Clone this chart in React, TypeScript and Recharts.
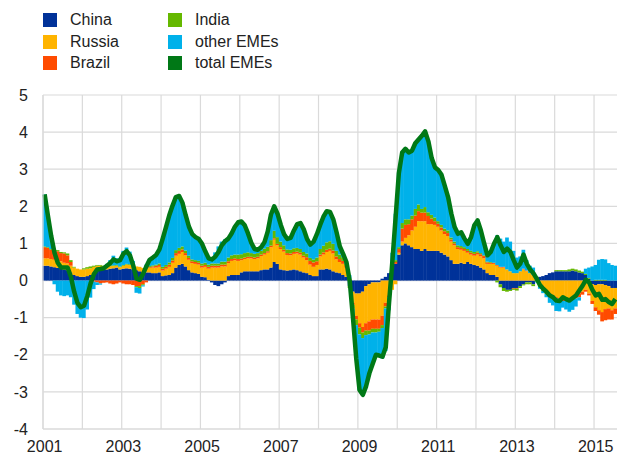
import { ComposedChart, Bar, Line, XAxis, YAxis, CartesianGrid } from "recharts";

// monthly contributions, Jan 2001 .. Jul 2015
const startYear = 2001;

const china = [
  0.40, 0.40, 0.38, 0.36, 0.34, 0.32, 0.30, 0.28, 0.22, 0.15, 0.12, 0.10,
  0.10, 0.12, 0.15, 0.22, 0.28, 0.30, 0.30, 0.30, 0.32, 0.33, 0.35, 0.30,
  0.32, 0.33, 0.32, 0.30, 0.28, 0.25, 0.22, 0.22, 0.22, 0.20, 0.20, 0.22,
  0.12, 0.14, 0.15, 0.20, 0.35, 0.42, 0.45, 0.38, 0.28, 0.22, 0.20, 0.18,
  0.10, 0.09, 0.02, -0.05, -0.12, -0.15, -0.10, -0.05, 0.12, 0.15, 0.15, 0.15,
  0.22, 0.25, 0.25, 0.25, 0.25, 0.25, 0.28, 0.30, 0.30, 0.35, 0.50, 0.45,
  0.30, 0.28, 0.27, 0.28, 0.30, 0.28, 0.25, 0.22, 0.20, 0.15, 0.12, 0.12,
  0.30, 0.30, 0.32, 0.30, 0.25, 0.22, 0.20, 0.15, 0.10, -0.15, -0.30, -0.35,
  -0.35, -0.30, -0.15, -0.10, -0.05, -0.05, -0.05, 0.05, 0.10, 0.20, 0.30, 0.45,
  0.70, 0.95, 1.00, 0.95, 0.90, 0.85, 0.85, 0.80, 0.85, 0.80, 0.80, 0.80,
  0.80, 0.75, 0.70, 0.65, 0.55, 0.45, 0.45, 0.48, 0.45, 0.50, 0.45, 0.42,
  0.40, 0.35, 0.30, 0.20, 0.15, 0.15, 0.10, -0.10, -0.20, -0.25, -0.25, -0.20,
  -0.20, -0.15, -0.10, -0.05, -0.05, -0.10, 0.05, 0.10, 0.12, 0.15, 0.20, 0.22,
  0.25, 0.25, 0.25, 0.25, 0.25, 0.27, 0.25, 0.22, 0.20, 0.15, 0.05, -0.10,
  -0.12, -0.10, -0.10, -0.12, -0.15, -0.20, -0.20,
];

const russia = [
  0.20, 0.20, 0.20, 0.20, 0.20, 0.20, 0.18, 0.18, 0.18, 0.20, 0.20, 0.20,
  0.20, 0.20, 0.18, 0.15, 0.12, 0.10, 0.08, 0.08, 0.07, 0.06, 0.05, 0.06,
  0.08, 0.10, 0.10, 0.10, 0.10, 0.12, 0.12, 0.10, 0.12, 0.15, 0.15, 0.15,
  0.15, 0.18, 0.22, 0.28, 0.32, 0.30, 0.32, 0.30, 0.28, 0.25, 0.25, 0.25,
  0.25, 0.28, 0.30, 0.35, 0.35, 0.35, 0.38, 0.38, 0.35, 0.38, 0.40, 0.38,
  0.33, 0.33, 0.35, 0.35, 0.33, 0.35, 0.38, 0.40, 0.45, 0.55, 0.60, 0.50,
  0.55, 0.50, 0.42, 0.40, 0.42, 0.45, 0.45, 0.40, 0.35, 0.28, 0.25, 0.30,
  0.35, 0.40, 0.45, 0.50, 0.48, 0.35, 0.30, 0.30, 0.25, 0.05, -0.30, -0.60,
  -0.80, -0.95, -1.00, -1.00, -1.00, -1.00, -1.00, -0.95, -0.60, -0.40, -0.25, -0.10,
  0.05, 0.10, 0.15, 0.27, 0.45, 0.60, 0.75, 0.80, 0.75, 0.72, 0.72, 0.70,
  0.65, 0.60, 0.55, 0.55, 0.50, 0.50, 0.40, 0.35, 0.35, 0.25, 0.25, 0.25,
  0.30, 0.30, 0.30, 0.25, 0.30, 0.30, 0.30, 0.35, 0.35, 0.30, 0.25, 0.20,
  0.20, 0.25, 0.30, 0.25, 0.20, 0.15, 0.05, -0.10, -0.20, -0.30, -0.35, -0.40,
  -0.45, -0.50, -0.50, -0.50, -0.50, -0.45, -0.40, -0.35, -0.30, -0.25, -0.35, -0.45,
  -0.60, -0.70, -0.75, -0.65, -0.60, -0.60, -0.55,
];

const brazil = [
  0.30, 0.28, 0.25, 0.22, 0.25, 0.22, 0.25, 0.22, 0.10, 0.00, 0.00, 0.00,
  0.00, 0.00, 0.00, -0.03, -0.05, -0.08, -0.06, -0.05, -0.08, -0.10, -0.08, -0.05,
  -0.08, -0.10, -0.10, -0.12, -0.15, -0.15, -0.10, -0.05, 0.02, 0.03, 0.05, 0.05,
  0.05, 0.05, 0.06, 0.06, 0.07, 0.08, 0.07, 0.06, 0.05, 0.05, 0.05, 0.05,
  0.05, 0.05, 0.05, 0.05, 0.05, 0.05, 0.05, 0.05, 0.05, 0.05, 0.05, 0.05,
  0.04, 0.04, 0.04, 0.04, 0.04, 0.04, 0.04, 0.04, 0.04, 0.04, 0.04, 0.04,
  0.05, 0.05, 0.05, 0.05, 0.05, 0.05, 0.05, 0.05, 0.08, 0.10, 0.12, 0.10,
  0.05, 0.06, 0.06, 0.06, 0.08, 0.08, 0.08, 0.08, 0.05, 0.00, -0.05, -0.10,
  -0.12, -0.15, -0.20, -0.25, -0.25, -0.25, -0.25, -0.25, -0.10, -0.05, 0.00, 0.05,
  0.10, 0.35, 0.35, 0.30, 0.30, 0.30, 0.27, 0.23, 0.23, 0.22, 0.15, 0.10,
  0.08, 0.08, 0.08, 0.08, 0.06, 0.05, 0.05, 0.05, 0.05, 0.05, 0.05, 0.05,
  0.05, 0.06, 0.06, 0.04, 0.03, 0.03, 0.02, 0.02, 0.02, 0.00, 0.00, -0.02,
  -0.02, 0.00, 0.02, 0.02, 0.00, 0.00, 0.00, -0.02, -0.03, -0.03, -0.03, -0.03,
  -0.03, -0.03, -0.05, -0.05, -0.05, -0.05, -0.08, -0.10, -0.08, -0.05, -0.05, -0.08,
  -0.10, -0.12, -0.25, -0.30, -0.30, -0.25, -0.15,
];

const india = [
  0.02, 0.02, 0.02, 0.03, 0.03, 0.03, 0.03, 0.05, 0.05, 0.02, 0.00, 0.00,
  0.03, 0.04, 0.05, 0.03, 0.02, 0.02, 0.02, 0.02, 0.02, 0.02, 0.02, 0.02,
  0.02, 0.02, 0.02, 0.02, -0.03, -0.05, -0.03, 0.02, 0.03, 0.03, 0.03, 0.04,
  0.05, 0.05, 0.06, 0.07, 0.08, 0.08, 0.08, 0.07, 0.06, 0.05, 0.05, 0.05,
  0.06, 0.06, 0.06, 0.06, 0.06, 0.06, 0.08, 0.08, 0.10, 0.10, 0.10, 0.12,
  0.12, 0.12, 0.12, 0.10, 0.10, 0.10, 0.10, 0.12, 0.12, 0.15, 0.20, 0.18,
  0.15, 0.12, 0.10, 0.10, 0.10, 0.10, 0.10, 0.10, 0.10, 0.08, 0.08, 0.10,
  0.15, 0.18, 0.20, 0.20, 0.18, 0.15, 0.12, 0.10, 0.05, -0.05, -0.10, -0.15,
  -0.18, -0.15, -0.12, -0.10, -0.10, -0.10, -0.08, -0.08, -0.05, 0.00, 0.02, 0.05,
  0.05, 0.15, 0.15, 0.13, 0.10, 0.18, 0.18, 0.10, 0.15, 0.10, 0.10, 0.10,
  0.07, 0.07, 0.07, 0.07, 0.05, 0.05, 0.05, 0.05, 0.05, 0.05, 0.05, 0.05,
  0.04, 0.03, 0.02, 0.02, 0.02, 0.00, -0.05, -0.08, -0.08, -0.05, -0.03, -0.03,
  -0.05, -0.05, -0.03, -0.05, -0.05, -0.05, -0.03, -0.05, -0.05, -0.03, -0.02, -0.02,
  0.03, 0.03, 0.03, 0.03, 0.05, 0.05, 0.05, 0.05, 0.04, 0.03, 0.02, 0.00,
  0.02, 0.02, 0.02, 0.02, 0.00, 0.00, 0.00,
];

const otherEmes = [
  1.40, 0.85, 0.35, -0.10, -0.30, -0.40, -0.42, -0.40, -0.45, -0.65, -0.90, -1.00,
  -1.01, -0.78, -0.46, -0.20, -0.07, -0.03, 0.00, 0.05, 0.14, 0.26, 0.18, 0.22,
  0.38, 0.44, 0.34, 0.11, -0.15, -0.15, -0.03, 0.09, 0.17, 0.21, 0.26, 0.38,
  0.76, 1.02, 1.27, 1.41, 1.43, 1.40, 1.18, 0.95, 0.78, 0.68, 0.62, 0.59,
  0.53, 0.30, 0.17, 0.16, 0.30, 0.46, 0.54, 0.60, 0.51, 0.59, 0.75, 0.87,
  0.88, 0.75, 0.51, 0.28, 0.13, 0.09, 0.10, 0.17, 0.41, 0.69, 0.66, 0.63,
  0.45, 0.30, 0.28, 0.32, 0.48, 0.64, 0.70, 0.61, 0.39, 0.36, 0.48, 0.63,
  0.65, 0.78, 0.84, 0.79, 0.66, 0.50, 0.22, 0.09, 0.05, 0.10, -0.25, -0.90,
  -1.50, -1.53, -1.38, -1.05, -0.85, -0.60, -0.64, -0.82, -1.15, -0.35, 0.43, 1.25,
  2.00, 1.90, 1.90, 1.80, 1.75, 1.77, 1.75, 1.97, 2.04, 1.91, 1.53, 1.35,
  1.38, 1.35, 1.15, 0.90, 0.64, 0.39, 0.31, 0.37, 0.23, 0.14, 0.37, 0.72,
  0.83, 0.61, 0.32, 0.17, 0.27, 0.51, 0.80, 0.76, 0.68, 0.86, 0.80, 0.60,
  0.42, 0.40, 0.51, 0.28, 0.20, 0.20, -0.02, -0.05, -0.06, -0.09, -0.20, -0.22,
  -0.34, -0.30, -0.18, -0.23, -0.29, -0.29, -0.22, -0.09, 0.00, 0.14, 0.28, 0.38,
  0.40, 0.54, 0.56, 0.55, 0.47, 0.42, 0.40,
];

const totalEmes = [
  2.32, 1.75, 1.20, 0.75, 0.48, 0.35, 0.35, 0.35, 0.10, -0.30, -0.60, -0.72,
  -0.68, -0.42, -0.08, 0.17, 0.30, 0.31, 0.33, 0.40, 0.47, 0.57, 0.52, 0.55,
  0.72, 0.79, 0.68, 0.41, 0.05, 0.02, 0.18, 0.38, 0.56, 0.62, 0.69, 0.84,
  1.13, 1.44, 1.76, 2.02, 2.25, 2.28, 2.10, 1.76, 1.45, 1.25, 1.17, 1.12,
  0.99, 0.78, 0.60, 0.57, 0.64, 0.77, 0.95, 1.06, 1.13, 1.27, 1.45, 1.57,
  1.59, 1.49, 1.27, 1.02, 0.85, 0.83, 0.90, 1.03, 1.32, 1.78, 2.00, 1.80,
  1.50, 1.25, 1.12, 1.15, 1.35, 1.52, 1.55, 1.38, 1.12, 0.97, 1.05, 1.25,
  1.50, 1.72, 1.87, 1.85, 1.65, 1.30, 0.92, 0.72, 0.50, 0.00, -1.00, -2.10,
  -2.95, -3.08, -2.85, -2.50, -2.25, -2.00, -2.02, -2.05, -1.80, -0.60, 0.50, 1.70,
  2.90, 3.45, 3.55, 3.45, 3.50, 3.70, 3.80, 3.90, 4.02, 3.75, 3.30, 3.05,
  2.98, 2.85, 2.55, 2.25, 1.80, 1.44, 1.26, 1.30, 1.13, 0.99, 1.17, 1.49,
  1.62, 1.35, 1.00, 0.68, 0.77, 0.99, 1.17, 0.95, 0.77, 0.86, 0.77, 0.55,
  0.35, 0.45, 0.70, 0.45, 0.30, 0.20, 0.05, -0.12, -0.22, -0.30, -0.40, -0.45,
  -0.54, -0.55, -0.45, -0.50, -0.54, -0.47, -0.40, -0.27, -0.14, 0.02, -0.05, -0.25,
  -0.40, -0.36, -0.52, -0.50, -0.58, -0.63, -0.50,
];

const yTicks = [-4, -3, -2, -1, 0, 1, 2, 3, 4, 5];

const COLORS = {
  china: "#003299",
  russia: "#ffb400",
  brazil: "#ff4b00",
  india: "#65b800",
  other: "#00b1ea",
  total: "#007816",
};

const legendItems = [
  { label: "China", color: COLORS.china, col: 0, row: 0 },
  { label: "Russia", color: COLORS.russia, col: 0, row: 1 },
  { label: "Brazil", color: COLORS.brazil, col: 0, row: 2 },
  { label: "India", color: COLORS.india, col: 1, row: 0 },
  { label: "other EMEs", color: COLORS.other, col: 1, row: 1 },
  { label: "total EMEs", color: COLORS.total, col: 1, row: 2 },
];

const monthKey = (i: number) =>
  `${startYear + Math.floor(i / 12)}-${String((i % 12) + 1).padStart(2, "0")}`;

const data = totalEmes.map((t, i) => ({
  month: monthKey(i),
  china: china[i],
  russia: russia[i],
  brazil: brazil[i],
  india: india[i],
  other: otherEmes[i],
  total: t,
}));

const yearTicks = data.filter((d) => d.month.endsWith("-01")).map((d) => d.month);

const FONT = '"Liberation Sans", Arial, sans-serif';

// bars drawn a hair wider than their band so neighbouring months touch without seams
const SeamlessBar = (props: any) => {
  const { x, y, width, height, fill } = props;
  if (!height || !width) return null;
  const top = Math.min(y, y + height);
  return <rect x={x - 0.35} y={top} width={width + 0.7} height={Math.abs(height)} fill={fill} />;
};

export default function App() {
  return (
    <div style={{ position: "absolute", left: 0, top: 0, width: 617, height: 454, background: "#fff", fontFamily: FONT }}>
      {legendItems.map((it) => (
        <div
          key={it.label}
          style={{
            position: "absolute",
            left: it.col === 0 ? 43 : 168,
            top: 13 + it.row * 21.5,
            height: 14,
            display: "flex",
            alignItems: "center",
            fontSize: 16,
            color: "#222",
            whiteSpace: "nowrap",
          }}
        >
          <span style={{ display: "inline-block", width: 14, height: 14, background: it.color, marginRight: 13 }} />
          {it.label}
        </div>
      ))}
      <ComposedChart
        width={617}
        height={454}
        data={data}
        stackOffset="sign"
        barCategoryGap={0}
        barGap={0}
        margin={{ top: 95, right: 0, bottom: 0, left: 0 }}
        style={{ position: "absolute", left: 0, top: 0 }}
      >
        <CartesianGrid
          stroke="#dadada"
          strokeWidth={1.2}
          verticalCoordinatesGenerator={({ offset }: any) => {
            const bw = offset.width / data.length;
            return yearTicks.map((_, k) => offset.left + k * 12 * bw);
          }}
        />
        <XAxis
          dataKey="month"
          ticks={yearTicks}
          interval={0}
          height={25}
          tickLine={false}
          tickMargin={6}
          axisLine={{ stroke: "#dadada", strokeWidth: 1.2 }}
          tick={{ fill: "#222", fontSize: 16, fontFamily: FONT }}
          tickFormatter={(v: string) => {
            const y = Number(v.slice(0, 4));
            return y % 2 === 1 ? String(y) : "";
          }}
        />
        <YAxis
          domain={[-4, 5]}
          ticks={yTicks}
          interval={0}
          width={43}
          tickLine={false}
          tickMargin={9}
          axisLine={{ stroke: "#dadada", strokeWidth: 1.2 }}
          tick={{ fill: "#222", fontSize: 16, fontFamily: FONT }}
        />
        <Bar dataKey="china" stackId="a" fill={COLORS.china} shape={SeamlessBar} isAnimationActive={false} />
        <Bar dataKey="russia" stackId="a" fill={COLORS.russia} shape={SeamlessBar} isAnimationActive={false} />
        <Bar dataKey="brazil" stackId="a" fill={COLORS.brazil} shape={SeamlessBar} isAnimationActive={false} />
        <Bar dataKey="india" stackId="a" fill={COLORS.india} shape={SeamlessBar} isAnimationActive={false} />
        <Bar dataKey="other" stackId="a" fill={COLORS.other} shape={SeamlessBar} isAnimationActive={false} />
        <Line
          dataKey="total"
          type="linear"
          stroke={COLORS.total}
          strokeWidth={4.5}
          strokeLinejoin="round"
          dot={false}
          activeDot={false}
          isAnimationActive={false}
        />
      </ComposedChart>
    </div>
  );
}
